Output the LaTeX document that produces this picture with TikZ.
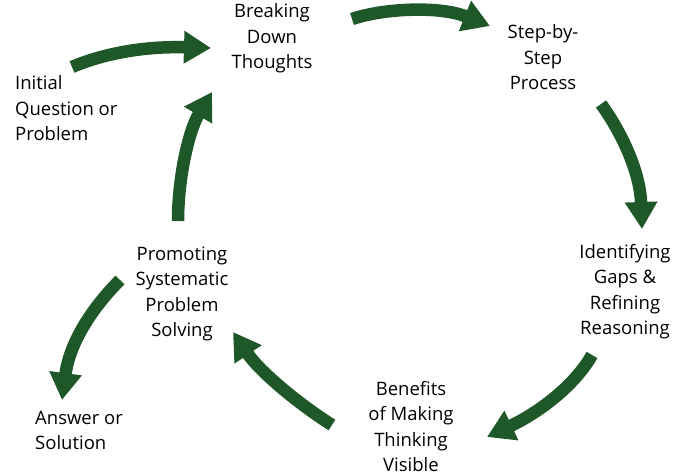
\documentclass[tikz,border=0pt]{standalone}
\usepackage{fontspec}
\setmainfont{Open Sans}
\usetikzlibrary{arrows.meta}
\definecolor{arrowgreen}{RGB}{30,88,40}
\tikzset{
  lbl/.style={inner sep=0pt, align=center, font=\fontsize{18.5}{25.5}\selectfont, text=black},
  lbll/.style={lbl, align=left, anchor=west},
  flow/.style={draw=arrowgreen, line width=12.5pt, -{Triangle[length=27pt,width=31pt]}}
}
\begin{document}
\begin{tikzpicture}[x=1pt,y=-1pt]
\useasboundingbox (0,0) rectangle (691,476);
\node[lbl] (break) at (272,38.5) {Breaking\\Down\\Thoughts};
\node[lbll] (init) at (15,108.5) {Initial\\Question or\\Problem};
\node[lbl] (step) at (543,57.5) {Step-by-\\Step\\Process};
\node[lbl] (ident) at (625,291.5) {Identifying\\Gaps \&\\Refining\\Reasoning};
\node[lbl] (bene) at (411,426.5) {Benefits\\of Making\\Thinking\\Visible};
\node[lbl] (prom) at (182,294) {Promoting\\Systematic\\Problem\\Solving};
\node[lbll] (ans) at (35,430.5) {Answer or\\Solution};
% arrow end points
\coordinate (a1s) at (72,67);   \coordinate (a1e) at (211,48);
\coordinate (a2s) at (352,19);  \coordinate (a2e) at (490,26);
\coordinate (a3s) at (601,104); \coordinate (a3e) at (642,229);
\coordinate (a4s) at (592,355); \coordinate (a4e) at (487,437);
\coordinate (a5s) at (332,425); \coordinate (a5e) at (233,332);
\coordinate (a6s) at (178,221); \coordinate (a6e) at (212,92);
\coordinate (a7s) at (120,280); \coordinate (a7e) at (62,400);
\draw[flow] (a1s) .. controls (100,55) and (140,46) .. (a1e);
\draw[flow] (a2s) .. controls (385,8) and (440,6) .. (a2e);
\draw[flow] (a3s) .. controls (620,130) and (640,170) .. (a3e);
\draw[flow] (a4s) .. controls (575,385) and (540,412) .. (a4e);
\draw[flow] (a5s) .. controls (300,405) and (260,372) .. (a5e);
\draw[flow] (a6s) .. controls (178,180) and (188,132) .. (a6e);
\draw[flow] (a7s) .. controls (95,305) and (70,340) .. (a7e);
\end{tikzpicture}
\end{document}
